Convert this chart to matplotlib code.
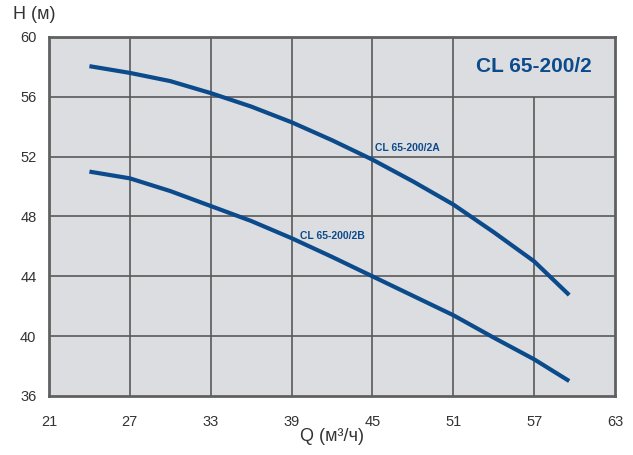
import matplotlib
matplotlib.use("Agg")
import matplotlib.pyplot as plt

# flow (m3/h) and head (m)
q = [24, 27, 30, 33, 36, 39, 42, 45, 48, 51, 54, 57, 59.6]
head_a = [58.05, 57.6, 57.05, 56.25, 55.35, 54.3, 53.1, 51.8, 50.35, 48.8, 46.95, 45.0, 42.75]
head_b = [51.0, 50.55, 49.7, 48.7, 47.7, 46.55, 45.3, 44.0, 42.7, 41.4, 39.9, 38.45, 37.0]

x_ticks = [21, 27, 33, 39, 45, 51, 57, 63]
y_ticks = [36, 40, 44, 48, 52, 56, 60]

title = "CL 65-200/2"
label_a = "CL 65-200/2A"
label_b = "CL 65-200/2B"

blue = "#0b4a8b"
bg = "#dcdde0"
grid_c = "#5a5a5a"
sans = ["Liberation Sans", "DejaVu Sans"]

fig = plt.figure(figsize=(6.33, 4.55), dpi=100)
ax = fig.add_axes([0.0774, 0.1297, 0.8942, 0.789])
ax.set_facecolor(bg)
ax.set_xlim(21, 63)
ax.set_ylim(36, 60)
ax.set_xticks(x_ticks)
ax.set_yticks(y_ticks)

# grid drawn by hand: the 57 line stops under the title box
for x in x_ticks[1:-1]:
    top = 56 if x == 57 else 60
    ax.vlines(x, 36, top, color=grid_c, linewidth=1.2, zorder=1)
for y in y_ticks[1:-1]:
    ax.hlines(y, 21, 63, color=grid_c, linewidth=1.2, zorder=1)

for s in ax.spines.values():
    s.set_color("#606060")
    s.set_linewidth(2)
ax.tick_params(length=0, pad=14, labelsize=10.5, labelcolor="#333333")
ax.tick_params(axis="y", pad=9)
for t in ax.get_xticklabels() + ax.get_yticklabels():
    t.set_family(sans)

ax.text(57, 58, title, color=blue, fontsize=15, fontweight="bold",
        ha="center", va="center", family=sans, zorder=3)

ax.plot(q, head_a, color=blue, linewidth=3.0, solid_capstyle="butt",
        solid_joinstyle="round", zorder=4)
ax.plot(q, head_b, color=blue, linewidth=3.0, solid_capstyle="butt",
        solid_joinstyle="round", zorder=4)

ax.text(45.2, 52.6, label_a, color=blue, fontsize=7.5, fontweight="bold",
        ha="left", va="center", family=sans, zorder=3)
ax.text(39.6, 46.7, label_b, color=blue, fontsize=7.5, fontweight="bold",
        ha="left", va="center", family=sans, zorder=3)

fig.text(0.054, 0.968, "H (м)", fontsize=13, color="#333333", ha="center", va="center",
         family=sans)
fig.text(0.525, 0.04, "Q (м³/ч)", fontsize=13, color="#333333", ha="center", va="center",
         family=sans)

fig.savefig("out.png", dpi=100, facecolor="white")
